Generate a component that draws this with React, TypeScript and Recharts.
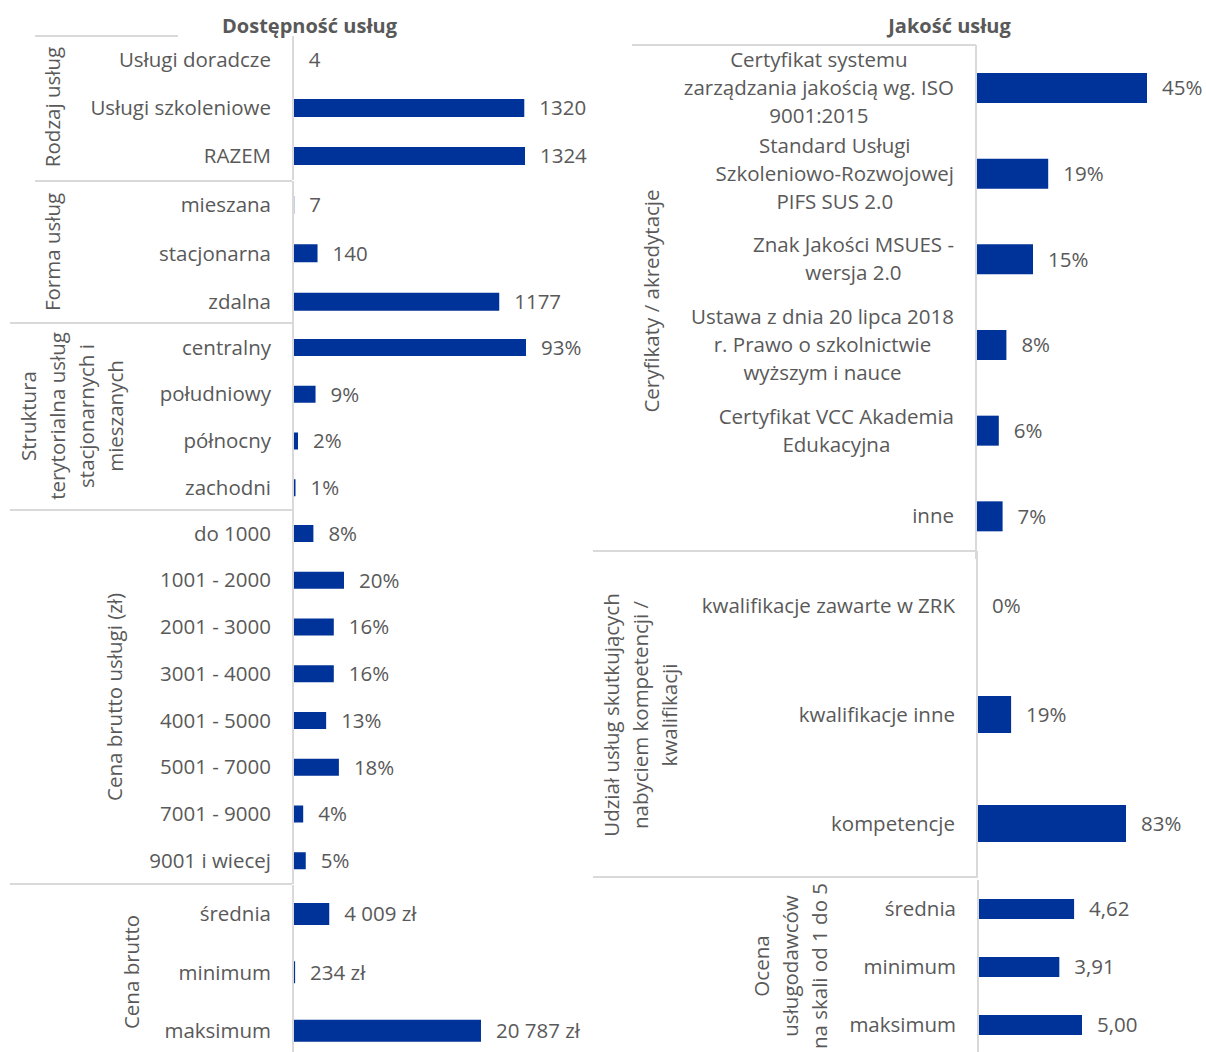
import React from 'react';
import { BarChart, Bar, XAxis, YAxis, LabelList } from 'recharts';

const FONT = '"Open Sans", "Noto Sans", sans-serif';
const FS = 20.5;
const TEXT = '#595959';
const BAR = '#003399';
const GRID = '#d9d9d9';

// ---- data ----
const rodzajLabels = ['Usługi doradcze', 'Usługi szkoleniowe', 'RAZEM'];
const rodzajValues = [4, 1320, 1324];
const formaLabels = ['mieszana', 'stacjonarna', 'zdalna'];
const formaValues = [7, 140, 1177];
const strukturaLabels = ['centralny', 'południowy', 'północny', 'zachodni'];
const strukturaValues = [93, 9, 2, 1];
const cenaLabels = ['do 1000', '1001 - 2000', '2001 - 3000', '3001 - 4000', '4001 - 5000', '5001 - 7000', '7001 - 9000', '9001 i wiecej'];
const cenaValues = [8, 20, 16, 16, 13, 18, 4, 5];
const bruttoLabels = ['średnia', 'minimum', 'maksimum'];
const bruttoValues = [4009, 234, 20787];
const certLabels = [
  'Certyfikat systemu\nzarządzania jakością wg. ISO\n9001:2015',
  'Standard Usługi\nSzkoleniowo-Rozwojowej\nPIFS SUS 2.0',
  'Znak Jakości MSUES -\nwersja 2.0',
  'Ustawa z dnia 20 lipca 2018\nr. Prawo o szkolnictwie\nwyższym i nauce',
  'Certyfikat VCC Akademia\nEdukacyjna',
  'inne',
];
const certValues = [45, 19, 15, 8, 6, 7];
const udzialLabels = ['kwalifikacje zawarte w ZRK', 'kwalifikacje inne', 'kompetencje'];
const udzialValues = [0, 19, 83];
const ocenaLabels = ['średnia', 'minimum', 'maksimum'];
const ocenaValues = [4.62, 3.91, 5.0];

const fmtInt = (v: number) => String(v);
const fmtPct = (v: number) => `${v}%`;
const fmtZl = (v: number) => `${String(v).replace(/\B(?=(\d{3})+(?!\d))/g, ' ')} zł`;
const fmtDec = (v: number) => v.toFixed(2).replace('.', ',');

let ctx: CanvasRenderingContext2D | null = null;
function measure(t: string): number {
  if (!ctx) ctx = document.createElement('canvas').getContext('2d');
  if (!ctx) return t.length * FS * 0.5;
  ctx.font = `${FS}px "Open Sans"`;
  return ctx.measureText(t).width;
}

const makeTick = (rightX: number, lh: number) => (props: any) => {
  const { y, payload } = props;
  const lines = String(payload.value).split('\n');
  const multi = lines.length > 1;
  const maxW = Math.max(...lines.map(measure));
  const cx = rightX - maxW / 2;
  return (
    <g>
      {lines.map((ln, i) => (
        <text
          key={i}
          x={multi ? cx : rightX}
          y={y + (i - (lines.length - 1) / 2) * lh}
          dy="0.355em"
          textAnchor={multi ? 'middle' : 'end'}
          fill={TEXT}
          fontSize={FS}
          fontFamily={FONT}
        >
          {ln}
        </text>
      ))}
    </g>
  );
};

type GroupProps = {
  axisX: number;
  top: number;
  bottom: number;
  labels: string[];
  values: number[];
  ppu: number;
  domainMax: number;
  barSize: number;
  fmt: (v: number) => string;
  yWidth: number;
};

function Group({ axisX, top, bottom, labels, values, ppu, domainMax, barSize, fmt, yWidth }: GroupProps) {
  const data = labels.map((l, i) => ({ name: l, value: values[i] }));
  const h = bottom - top;
  const plotW = domainMax * ppu;
  const rightM = 140;
  const width = yWidth + plotW + rightM;
  return (
    <div style={{ position: 'absolute', left: axisX - yWidth, top }}>
      <BarChart
        layout="vertical"
        width={width}
        height={h}
        data={data}
        margin={{ top: 0, right: rightM, bottom: 0, left: 0 }}
      >
        <XAxis type="number" hide domain={[0, domainMax]} allowDataOverflow />
        <YAxis
          type="category"
          dataKey="name"
          width={yWidth}
          axisLine={{ stroke: GRID, strokeWidth: 2 }}
          tickLine={false}
          tickSize={0}
          tickMargin={0}
          interval={0}
          tick={makeTick(yWidth - 22, 28)}
        />
        <Bar dataKey="value" fill={BAR} barSize={barSize} minPointSize={0.01} isAnimationActive={false}>
          <LabelList
            dataKey="value"
            position="right"
            offset={15}
            formatter={(v: any) => fmt(Number(v))}
            fill={TEXT}
            fontSize={FS}
            fontFamily={FONT}
          />
        </Bar>
      </BarChart>
    </div>
  );
}

const frameLines = [
  [35, 36, 178, 36],
  [35, 181, 292, 181],
  [10, 323, 293, 323],
  [10, 510, 292, 510],
  [10, 884, 292, 884],
  [632, 45, 976, 45],
  [593, 551, 977, 551],
  [593, 877, 977, 877],
];

const groupTitles: { cx: number; cy: number; lines: string[] }[] = [
  { cx: 52, cy: 107, lines: ['Rodzaj usług'] },
  { cx: 52, cy: 252, lines: ['Forma usług'] },
  { cx: 71, cy: 416, lines: ['Struktura', 'terytorialna usług', 'stacjonarnych i', 'mieszanych'] },
  { cx: 114, cy: 697, lines: ['Cena brutto usługi (zł)'] },
  { cx: 131, cy: 972, lines: ['Cena brutto'] },
  { cx: 651, cy: 301, lines: ['Ceryfikaty / akredytacje'] },
  { cx: 640, cy: 715, lines: ['Udział usług skutkujących', 'nabyciem kompetencji /', 'kwalifikacji'] },
  { cx: 790, cy: 966, lines: ['Ocena', 'usługodawców', 'na skali od 1 do 5'] },
];

export default function App() {
  return (
    <div
      style={{
        position: 'fixed',
        left: 0,
        top: 0,
        width: 1206,
        height: 1052,
        overflow: 'hidden',
        background: '#fff',
        fontFamily: FONT,
      }}
    >
      <Group axisX={293} top={36} bottom={180} labels={rodzajLabels} values={rodzajValues} ppu={232 / 1324} domainMax={1600} barSize={18} fmt={fmtInt} yWidth={285} />
      <Group axisX={293} top={181} bottom={326} labels={formaLabels} values={formaValues} ppu={232 / 1324} domainMax={1600} barSize={18} fmt={fmtInt} yWidth={285} />
      <Group axisX={293} top={323.5} bottom={510.5} labels={strukturaLabels} values={strukturaValues} ppu={233 / 93} domainMax={100} barSize={17} fmt={fmtPct} yWidth={285} />
      <Group axisX={293} top={510} bottom={884} labels={cenaLabels} values={cenaValues} ppu={51 / 20} domainMax={100} barSize={17} fmt={fmtPct} yWidth={285} />
      <Group axisX={293} top={885} bottom={1060} labels={bruttoLabels} values={bruttoValues} ppu={188 / 20787} domainMax={25000} barSize={22} fmt={fmtZl} yWidth={285} />

      <Group axisX={976} top={45} bottom={559} labels={certLabels} values={certValues} ppu={171 / 45} domainMax={100} barSize={30} fmt={fmtPct} yWidth={330} />
      <Group axisX={977} top={551} bottom={878} labels={udzialLabels} values={udzialValues} ppu={149 / 83} domainMax={100} barSize={37} fmt={fmtPct} yWidth={330} />
      <Group axisX={978} top={880} bottom={1054} labels={ocenaLabels} values={ocenaValues} ppu={104 / 5} domainMax={5} barSize={20} fmt={fmtDec} yWidth={180} />

      <svg width={1206} height={1052} style={{ position: 'absolute', left: 0, top: 0, pointerEvents: 'none' }}>
        {frameLines.map(([x1, y1, x2, y2], i) => (
          <line key={i} x1={x1} y1={y1} x2={x2} y2={y2} stroke={GRID} strokeWidth={2} />
        ))}
        <text x={309.5} y={33} textAnchor="middle" fontWeight={700} fontSize={20} fill={TEXT} fontFamily={FONT}>
          Dostępność usług
        </text>
        <text x={949.5} y={33} textAnchor="middle" fontWeight={700} fontSize={20} fill={TEXT} fontFamily={FONT}>
          Jakość usług
        </text>
        {groupTitles.map((g, gi) => (
          <g key={gi} transform={`translate(${g.cx},${g.cy}) rotate(-90)`}>
            {g.lines.map((ln, i) => (
              <text
                key={i}
                x={0}
                y={(i - (g.lines.length - 1) / 2) * 29}
                dominantBaseline="central"
                textAnchor="middle"
                fill={TEXT}
                fontSize={FS}
                fontFamily={FONT}
              >
                {ln}
              </text>
            ))}
          </g>
        ))}
      </svg>
    </div>
  );
}
